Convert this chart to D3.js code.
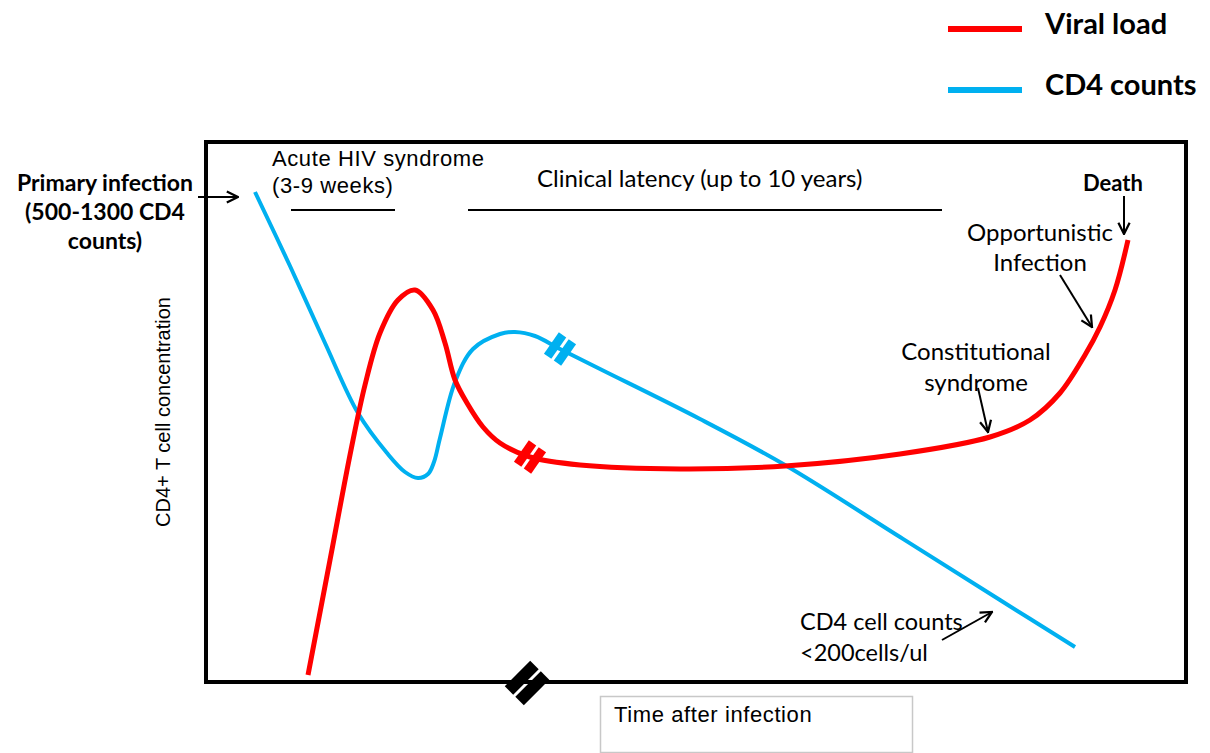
<!DOCTYPE html>
<html><head><meta charset="utf-8">
<script src="https://cdn.jsdelivr.net/npm/d3@7"></script>
<style>body{margin:0;background:#fff}svg{display:block}</style>
</head><body>
<svg id="c" width="1210" height="753"></svg>
<script>
// Time after infection (arbitrary units) and relative level (arbitrary units)
const viralTime = [102,124,145,159,174,192,209,227,239,249,261,277,294,324,374,474,579,694,784,824,854,879,894,909,922];
const viralLevel = [7,122,232,297,349,382,392,372,339,302,279,255,239,225,217,213,216,228,245,262,289,327,355,392,442];
const cd4Time = [49,84,119,152,181,199,212,222,228,234,249,267,294,309,329,354,394,494,579,694,794,869];
const cd4Level = [490,416,339,269,229,210,204,208,220,244,300,333,348,350,346,333,313,263,217,145,82,35];
const seriesNames = ["Viral load","CD4 counts"];
const seriesColors = ["#ff0000","#00b0f0"];
// axis-break markers [time, level, series]
const breaks = [[354,333,1],[324,225,0]];
const axisBreak = [321,-1];
// phase bars [startTime, endTime]
const phases = [[85,189],[262,736]];

const svg = d3.select("#c");
const x = d3.scaleLinear().domain([0,980]).range([206,1186]);
const y = d3.scaleLinear().domain([0,540]).range([682,142]);

// legend
seriesNames.forEach((n,i)=>{
  const ly = 29 + i*61;
  svg.append("line").attr("x1",948).attr("x2",1022).attr("y1",ly).attr("y2",ly)
    .attr("stroke",seriesColors[i]).attr("stroke-width",6);
  svg.append("text").attr("x",1045).attr("y",ly+5).text(n)
    .attr("font-family","Lato, 'Open Sans', sans-serif").attr("font-weight","bold")
    .attr("font-size",29).attr("fill","#000");
});

// arrow marker
const defs = svg.append("defs");
defs.append("marker").attr("id","arr").attr("viewBox","0 0 10 10").attr("refX",9).attr("refY",5)
  .attr("markerWidth",14).attr("markerHeight",14).attr("markerUnits","userSpaceOnUse").attr("orient","auto")
  .append("path").attr("d","M1,1 L9,5 L1,9").attr("fill","none").attr("stroke","#000").attr("stroke-width",1.6);

// frame
svg.append("rect").attr("x",x(0)).attr("y",y(540)).attr("width",x(980)-x(0)).attr("height",y(0)-y(540))
  .attr("fill","none").attr("stroke","#000").attr("stroke-width",4);

// curves
const line = d3.line().x(d=>x(d[0])).y(d=>y(d[1])).curve(d3.curveCatmullRom.alpha(0.5));
svg.append("path").datum(cd4Time.map((t,i)=>[t,cd4Level[i]])).attr("d",line)
  .attr("fill","none").attr("stroke",seriesColors[1]).attr("stroke-width",4);
svg.append("path").datum(viralTime.map((t,i)=>[t,viralLevel[i]])).attr("d",line)
  .attr("fill","none").attr("stroke",seriesColors[0]).attr("stroke-width",5);

// break markers
function breakMark(cx,cy,color,len,w,gap,angle){
  const g = svg.append("g").attr("transform",`translate(${cx},${cy}) rotate(${angle})`);
  [-1,1].forEach(s=>{
    g.append("rect").attr("x", s<0 ? -gap/2-w : gap/2).attr("y",-len/2).attr("width",w).attr("height",len)
      .attr("fill",color);
  });
}
breaks.forEach(b=>breakMark(x(b[0]),y(b[1]),seriesColors[b[2]],26,9,3,35));
breakMark(x(axisBreak[0]),y(axisBreak[1]),"#000",36,12,3,45);

// phase bars
phases.forEach(p=>{
  svg.append("line").attr("x1",x(p[0])).attr("x2",x(p[1])).attr("y1",210).attr("y2",210)
    .attr("stroke","#000").attr("stroke-width",2);
});

const cal = "Lato, 'Open Sans', sans-serif";
const ari = "'Liberation Sans', Arial, sans-serif";
function txt(t,xx,yy,opt){
  const e = svg.append("text").attr("x",xx).attr("y",yy).text(t)
    .attr("font-family",opt.f||cal).attr("font-size",opt.s||20).attr("fill","#000");
  if(opt.b) e.attr("font-weight",opt.b===1?"bold":opt.b);
  if(opt.a) e.attr("text-anchor",opt.a);
  if(opt.ls) e.attr("letter-spacing",opt.ls);
  return e;
}
function arrow(x1,y1,x2,y2){
  svg.append("line").attr("x1",x1).attr("y1",y1).attr("x2",x2).attr("y2",y2)
    .attr("stroke","#000").attr("stroke-width",2).attr("marker-end","url(#arr)");
}

txt("Primary infection",105,191,{b:1,s:23,a:"middle"});
txt("(500-1300 CD4",105,220,{b:1,s:23,a:"middle"});
txt("counts)",105,249,{b:1,s:23,a:"middle"});
arrow(198,197,238,197);

txt("Acute HIV syndrome",272,166,{f:ari,s:22,ls:0.6});
txt("(3-9 weeks)",272,193,{f:ari,s:22,ls:0.6});
txt("Clinical latency (up to 10 years)",537,187,{s:24});

txt("Death",1113,191,{b:1,s:22,a:"middle"});
arrow(1124,196,1124,234);
txt("Opportunistic",1040,241,{s:24,a:"middle"});
txt("Infection",1040,271,{s:24,a:"middle"});
arrow(1060,275,1092,327);
txt("Constitutional",976,360,{s:24,a:"middle"});
txt("syndrome",976,391,{s:24,a:"middle"});
arrow(978,388,988,432);
txt("CD4 cell counts",800,630,{s:23.5});
txt("<200cells/ul",800,661,{s:23.5});
arrow(942,640,992,612);

txt("CD4+ T cell concentration",0,0,{f:ari,s:20,a:"middle"})
  .attr("transform","translate(170,412) rotate(-90)");

svg.append("rect").attr("x",600.5).attr("y",696.5).attr("width",312).attr("height",56)
  .attr("fill","#fff").attr("stroke","#c8c8c8").attr("stroke-width",1.5);
txt("Time after infection",614,722,{f:ari,s:22,ls:0.6});
</script>
</body></html>
